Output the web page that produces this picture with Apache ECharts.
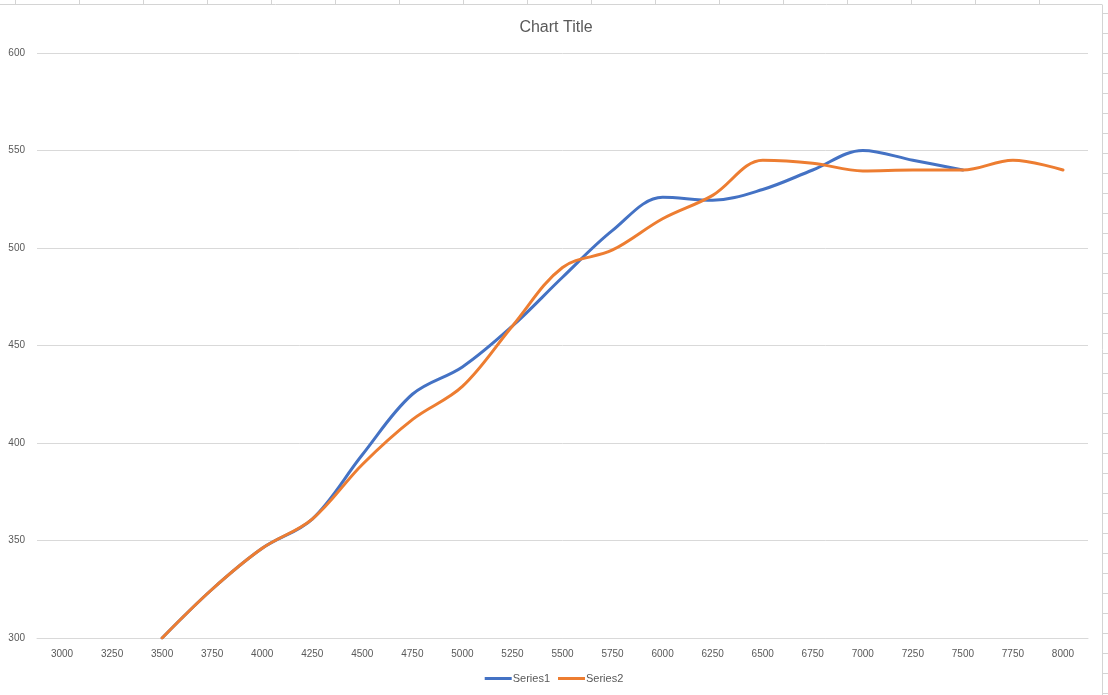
<!DOCTYPE html>
<html>
<head>
<meta charset="utf-8">
<script src="https://cdn.jsdelivr.net/npm/echarts@6/dist/echarts.min.js"></script>
<style>
	html, body { margin: 0; padding: 0; background: #fff; }
	#chart { width: 1108px; height: 695px; }
</style>
</head>
<body>
<div id="chart"></div>
<script>
var categories = ["3000", "3250", "3500", "3750", "4000", "4250", "4500", "4750", "5000", "5250", "5500",
	"5750", "6000", "6250", "6500", "6750", "7000", "7250", "7500", "7750", "8000"];
var series1 = [null, null, 300, 325, 346, 361, 394, 425, 439, 460, 485, 509, 526, 524.5, 530, 540, 550, 545, 540, null, null];
var series2 = [null, null, 300, 325, 346, 361, 389, 412, 429, 460, 490, 499, 515, 527, 545, 543.5, 539.5, 540, 540, 545, 540];
var seriesNames = ["Series1", "Series2"];
var yTicks = { min: 300, max: 600, step: 50 };

var colorList = ["#4472C4", "#ED7D31"];
var txtColor = "#595959";
var fontFam = "'Liberation Sans', Arial, sans-serif";

var myChart = echarts.init(document.getElementById("chart"));

// spreadsheet cell lines behind the chart
var cellLines = [];
cellLines.push({ type: 'line', shape: { x1: 0, y1: 4.5, x2: 1102, y2: 4.5 }, style: { stroke: '#d4d4d4', lineWidth: 1 } });
for (var cx = 15.5; cx < 1100; cx += 64) {
	cellLines.push({ type: 'line', shape: { x1: cx, y1: 0, x2: cx, y2: 4.5 }, style: { stroke: '#d4d4d4', lineWidth: 1 } });
}
cellLines.push({ type: 'line', shape: { x1: 1102.5, y1: 4.5, x2: 1102.5, y2: 695 }, style: { stroke: '#d4d4d4', lineWidth: 1 } });
for (var cy = 13.5; cy < 695; cy += 20) {
	cellLines.push({ type: 'line', shape: { x1: 1102.5, y1: cy, x2: 1108, y2: cy }, style: { stroke: '#d4d4d4', lineWidth: 1 } });
}

function buildSeries(datay) {
	var list = [];
	for (var i = 0; i < datay.length; i++) {
		list.push({
			name: seriesNames[i],
			type: 'line',
			data: datay[i],
			smooth: 0.35,
			showSymbol: false,
			symbol: 'none',
			connectNulls: false,
			lineStyle: { width: 3, color: colorList[i], cap: 'round' },
			itemStyle: { color: colorList[i] },
			z: 2 + i
		})
	}
	return list;
}

var option = {
	animation: false,
	backgroundColor: '#fff',
	textStyle: { fontFamily: fontFam },
	title: {
		text: 'Chart Title',
		left: 551,
		textAlign: 'center',
		top: 15,
		textStyle: { color: txtColor, fontSize: 16, fontWeight: 'normal', fontFamily: fontFam }
	},
	graphic: cellLines,
	legend: {
		data: seriesNames,
		bottom: 6,
		left: 'center',
		icon: 'rect',
		itemWidth: 27,
		itemHeight: 3,
		itemGap: 8,
		textStyle: { color: txtColor, fontSize: 11, fontFamily: fontFam, padding: [0, 0, 0, -4] }
	},
	grid: { left: 37, right: 20, top: 53, bottom: 57, containLabel: false },
	xAxis: {
		type: 'category',
		data: categories,
		boundaryGap: true,
		axisLine: { show: true, lineStyle: { color: '#d9d9d9', width: 1 } },
		axisTick: { show: false },
		axisLabel: { color: txtColor, fontSize: 10, margin: 11, interval: 0 },
		splitLine: { show: false }
	},
	yAxis: {
		type: 'value',
		min: yTicks.min,
		max: yTicks.max,
		interval: yTicks.step,
		axisLine: { show: false },
		axisTick: { show: false },
		axisLabel: { color: txtColor, fontSize: 10, margin: 12 },
		splitLine: { lineStyle: { color: '#d9d9d9', width: 1 } }
	},
	series: buildSeries([series1, series2])
};

myChart.setOption(option);
</script>
</body>
</html>
